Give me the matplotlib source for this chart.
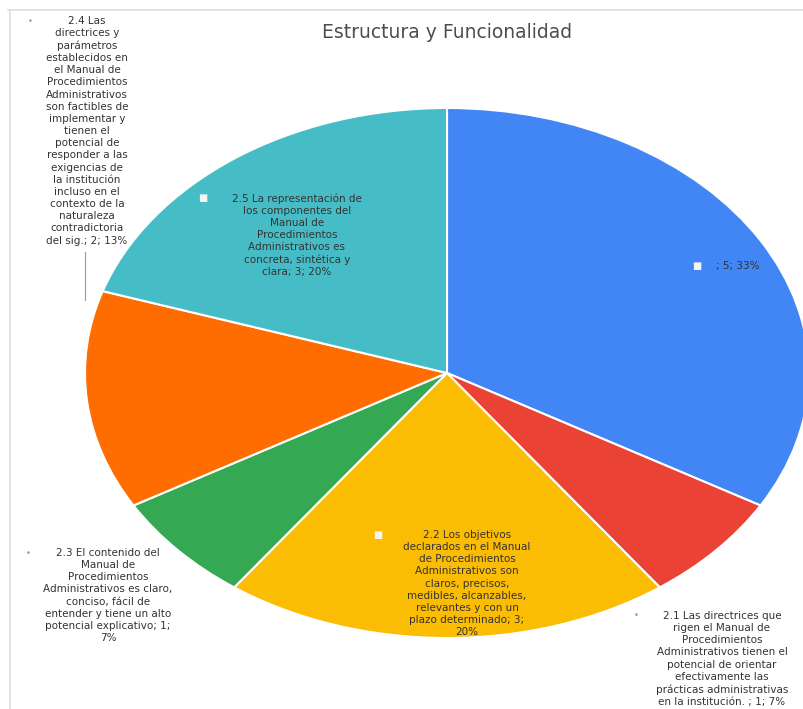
import matplotlib
matplotlib.use("Agg")
import matplotlib.pyplot as plt
from matplotlib.lines import Line2D

# datos del grafico
titulo = "Estructura y Funcionalidad"
valores = [5, 1, 3, 1, 2, 3]
colores = ["#4285F4", "#EA4335", "#FBBC04", "#34A853", "#FF6D01", "#46BDC6"]
etiquetas = [
    "; 5; 33%",
    "2.1 Las directrices que\nrigen el Manual de\nProcedimientos\nAdministrativos tienen el\n"
    "potencial de orientar\nefectivamente las\nprácticas administrativas\nen la institución. ; 1; 7%",
    "2.2 Los objetivos\ndeclarados en el Manual\nde Procedimientos\nAdministrativos son\n"
    "claros, precisos,\nmedibles, alcanzables,\nrelevantes y con un\nplazo determinado; 3;\n20%",
    "2.3 El contenido del\nManual de\nProcedimientos\nAdministrativos es claro,\n"
    "conciso, fácil de\nentender y tiene un alto\npotencial explicativo; 1;\n7%",
    "2.4 Las\ndirectrices y\nparámetros\nestablecidos en\nel Manual de\nProcedimientos\n"
    "Administrativos\nson factibles de\nimplementar y\ntienen el\npotencial de\n"
    "responder a las\nexigencias de\nla institución\nincluso en el\ncontexto de la\n"
    "naturaleza\ncontradictoria\ndel sig.; 2; 13%",
    "2.5 La representación de\nlos componentes del\nManual de\nProcedimientos\n"
    "Administrativos es\nconcreta, sintética y\nclara; 3; 20%",
]

W, H = 804, 709
fig = plt.figure(figsize=(W / 100, H / 100), dpi=100)
fig.patch.set_facecolor("white")

def px(x, y):
    return x / W, 1 - y / H

# pie estirado como elipse (centro 447,373  radios 362 x 265 px)
ax = fig.add_axes([85 / W, 1 - 638 / H, 724 / W, 530 / H])
ax.pie(valores, colors=colores, startangle=90, counterclock=False,
       wedgeprops=dict(edgecolor="white", linewidth=1.5))
ax.set_aspect("auto")
ax.set_xlim(-1, 1)
ax.set_ylim(-1, 1)
ax.axis("off")

# marco de la captura
fig.add_artist(Line2D([8 / W, 1], [1 - 10 / H] * 2, color="#dddddd", lw=1.2))
fig.add_artist(Line2D([10 / W] * 2, [0, 1 - 10 / H], color="#dddddd", lw=1.2))

fig.text(*px(447, 32), titulo, fontsize=13.5, color="#4d4d4d", ha="center", va="center")

fs = 7.5
ls = 1.27
txt = "#333333"

# etiquetas internas con marcador cuadrado
internas = [(0, 738, 266, 697), (2, 467, 535, 378), (5, 297, 198, 203)]
for i, cx, cy, mx in internas:
    fig.text(*px(cx, cy - 5), etiquetas[i], fontsize=fs, color=txt, ha="center",
             va="top", linespacing=ls)
    fig.text(*px(mx, cy), "■", fontsize=7, color="#f4f4f4", ha="center", va="center")

# etiquetas externas con viñeta
externas = [(1, 722, 616, 636), (3, 108, 553, 28), (4, 87, 21, 30)]
for i, cx, cy, bx in externas:
    fig.text(*px(cx, cy - 5), etiquetas[i], fontsize=fs, color=txt, ha="center",
             va="top", linespacing=ls)
    fig.text(*px(bx, cy), "•", fontsize=6, color="#999999", ha="center", va="center")

# linea guia de la etiqueta 2.4
fig.add_artist(Line2D([85 / W] * 2, [1 - 252 / H, 1 - 300 / H], color="#999999", lw=0.8))

fig.savefig("out.png", dpi=100, facecolor="white")
